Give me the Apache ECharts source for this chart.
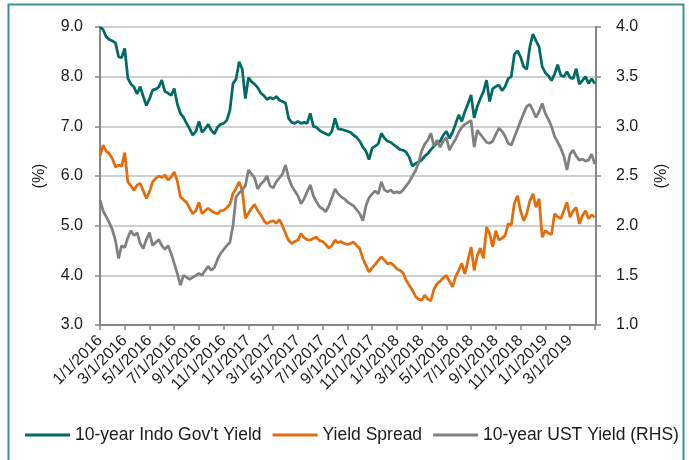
<!DOCTYPE html>
<html>
<head>
<meta charset="utf-8">
<script src="https://cdn.jsdelivr.net/npm/echarts@6/dist/echarts.min.js"></script>
<style>
  html, body { margin: 0; padding: 0; background: #fff; }
  #container { width: 689px; height: 460px; }
</style>
</head>
<body>
<div id="container"></div>
<script type="text/javascript">
    // x = months since 1/1/2016, one point every quarter month
    var step = 0.25;
    var dateLabels = ['1/1/2016', '3/1/2016', '5/1/2016', '7/1/2016', '9/1/2016', '11/1/2016',
        '1/1/2017', '3/1/2017', '5/1/2017', '7/1/2017', '9/1/2017', '11/1/2017',
        '1/1/2018', '3/1/2018', '5/1/2018', '7/1/2018', '9/1/2018', '11/1/2018',
        '1/1/2019', '3/1/2019'];

    // 10-year Indo Gov't Yield (LHS)
    var indoYield = [
        9.00, 8.95, 8.80, 8.75, 8.72, 8.68, 8.40, 8.38, 8.57, 7.97,
        7.85, 7.79, 7.65, 7.80, 7.60, 7.42, 7.55, 7.73, 7.75, 7.79,
        7.93, 7.70, 7.67, 7.62, 7.76, 7.45, 7.26, 7.18, 7.06, 6.95,
        6.82, 6.90, 7.10, 6.88, 6.95, 7.04, 6.92, 6.85, 6.98, 7.04,
        7.06, 7.12, 7.32, 7.86, 7.95, 8.30, 8.15, 7.56, 7.98, 7.90,
        7.85, 7.78, 7.67, 7.62, 7.54, 7.58, 7.55, 7.60, 7.53, 7.50,
        7.47, 7.16, 7.08, 7.06, 7.10, 7.06, 7.08, 7.06, 7.26, 7.00,
        6.98, 6.92, 6.88, 6.85, 6.82, 6.90, 7.16, 6.95, 6.94, 6.92,
        6.90, 6.88, 6.82, 6.78, 6.70, 6.58, 6.50, 6.33, 6.56, 6.60,
        6.65, 6.86, 6.76, 6.70, 6.68, 6.63, 6.58, 6.53, 6.52, 6.48,
        6.38, 6.20, 6.25, 6.28, 6.32, 6.40, 6.45, 6.53, 6.60, 6.66,
        6.70, 6.82, 6.90, 6.76, 6.88, 7.05, 7.23, 7.10, 7.30, 7.45,
        7.63, 7.17, 7.40, 7.56, 7.70, 7.93, 7.50, 7.76, 7.80, 7.83,
        7.72, 7.80, 7.96, 8.00, 8.45, 8.52, 8.40, 8.20, 8.15, 8.60,
        8.86, 8.72, 8.60, 8.20, 8.08, 8.02, 7.92, 8.05, 8.24, 8.03,
        8.00, 8.10, 7.98, 7.96, 8.16, 7.85, 7.92, 8.00, 7.86, 7.96,
        7.86
    ];

    // Yield Spread (LHS)
    var yieldSpread = [
        6.40, 6.62, 6.50, 6.45, 6.35, 6.18, 6.22, 6.20, 6.47, 5.88,
        5.80, 5.71, 5.82, 5.85, 5.70, 5.55, 5.68, 5.88, 5.95, 6.00,
        5.97, 6.02, 5.92, 5.98, 6.08, 5.90, 5.58, 5.52, 5.47, 5.35,
        5.24, 5.30, 5.47, 5.24, 5.30, 5.35, 5.30, 5.26, 5.24, 5.30,
        5.31, 5.36, 5.43, 5.65, 5.75, 5.88, 5.71, 5.15, 5.25, 5.35,
        5.43, 5.30, 5.22, 5.10, 5.04, 5.08, 5.10, 5.05, 5.12, 5.00,
        4.84, 4.70, 4.64, 4.68, 4.71, 4.84, 4.76, 4.72, 4.71, 4.74,
        4.77, 4.70, 4.68, 4.62, 4.55, 4.60, 4.71, 4.66, 4.68, 4.64,
        4.62, 4.64, 4.67, 4.60, 4.54, 4.34, 4.20, 4.07, 4.15, 4.22,
        4.30, 4.37, 4.30, 4.23, 4.25, 4.20, 4.13, 4.10, 4.05, 3.90,
        3.80, 3.70, 3.58, 3.52, 3.50, 3.60, 3.52, 3.49, 3.72, 3.83,
        3.88, 3.95, 4.00, 3.88, 3.77, 3.97, 4.10, 4.24, 4.03, 4.30,
        4.57, 4.10, 4.40, 4.55, 4.34, 4.97, 4.84, 4.57, 4.90, 4.71,
        4.75, 4.80, 5.04, 5.01, 5.45, 5.60, 5.30, 5.10, 5.24, 5.50,
        5.64, 5.37, 5.54, 4.77, 4.90, 4.85, 4.82, 5.24, 5.18, 5.14,
        5.30, 5.47, 5.17, 5.30, 5.37, 5.04, 5.20, 5.30, 5.14, 5.22,
        5.17
    ];

    // 10-year UST Yield (RHS)
    var ustYield = [
        2.26, 2.15, 2.09, 2.03, 1.96, 1.85, 1.67, 1.80, 1.78, 1.88,
        1.95, 1.90, 1.93, 1.82, 1.77, 1.86, 1.93, 1.80, 1.83, 1.86,
        1.80, 1.76, 1.80, 1.72, 1.62, 1.52, 1.40, 1.50, 1.48, 1.46,
        1.48, 1.50, 1.52, 1.50, 1.55, 1.59, 1.55, 1.58, 1.66, 1.72,
        1.76, 1.80, 1.83, 2.00, 2.29, 2.33, 2.36, 2.40, 2.56, 2.52,
        2.48, 2.37, 2.42, 2.45, 2.50, 2.40, 2.38, 2.44, 2.48, 2.52,
        2.61, 2.48, 2.40, 2.35, 2.30, 2.22, 2.27, 2.34, 2.41, 2.30,
        2.24, 2.19, 2.17, 2.14, 2.20, 2.28, 2.37, 2.32, 2.29, 2.27,
        2.24, 2.22, 2.20, 2.16, 2.12, 2.05, 2.20, 2.28, 2.32, 2.35,
        2.32, 2.44, 2.36, 2.34, 2.36, 2.33, 2.34, 2.33, 2.36, 2.40,
        2.44, 2.50, 2.55, 2.63, 2.75, 2.82, 2.86, 2.93, 2.80, 2.86,
        2.79, 2.85, 2.89, 2.76, 2.82, 2.87, 2.94, 2.99, 3.02, 3.04,
        3.06, 2.79, 2.96, 2.92, 2.88, 2.84, 2.83, 2.85, 2.92, 2.98,
        2.95, 2.90, 2.83, 2.81, 2.89, 2.97, 3.05, 3.13, 3.20, 3.22,
        3.16, 3.09, 3.15, 3.23, 3.13, 3.07, 3.00, 2.90, 2.84, 2.78,
        2.70, 2.56, 2.72, 2.76, 2.70, 2.66, 2.67, 2.65, 2.66, 2.72,
        2.62
    ];

    function toPairs(arr) {
        var out = [];
        for (var i = 0; i < arr.length; i++) {
            out.push([i * step, arr[i]]);
        }
        return out;
    }

    var font = 'Liberation Sans';
    var axisGray = '#868686';

    var myChart = echarts.init(document.getElementById('container'), null, { renderer: 'canvas' });
    var option = {
        backgroundColor: '#fff',
        animation: false,
        textStyle: { fontFamily: font },
        graphic: [{
            type: 'rect',
            shape: { x: 8.5, y: 4.5, width: 675, height: 470 },
            style: { fill: 'none', stroke: '#3f8f8f', lineWidth: 2 },
            silent: true
        }],
        grid: { left: 100, right: 93, top: 27, bottom: 135 },
        legend: {
            left: 20,
            top: 421,
            icon: 'rect',
            itemWidth: 45,
            itemHeight: 3,
            itemGap: 11,
            textStyle: { fontFamily: font, fontSize: 17.5, color: '#1a1a1a' },
            data: ["10-year Indo Gov't Yield", 'Yield Spread', '10-year UST Yield (RHS)']
        },
        xAxis: {
            type: 'value',
            min: 0,
            max: 40.1,
            interval: 2,
            splitLine: { show: false },
            axisLine: { lineStyle: { color: axisGray, width: 2 } },
            axisTick: { show: true, length: 5, lineStyle: { color: axisGray, width: 1.5 } },
            axisLabel: {
                rotate: 45,
                margin: 13,
                fontSize: 16,
                color: '#1a1a1a',
                fontFamily: font,
                showMaxLabel: false,
                formatter: function (v) {
                    var k = Math.round(v / 2);
                    return Math.abs(v - k * 2) < 1e-6 && dateLabels[k] ? dateLabels[k] : '';
                }
            }
        },
        yAxis: [{
            type: 'value',
            min: 3,
            max: 9,
            interval: 1,
            name: '(%)',
            nameLocation: 'middle',
            nameRotate: 90,
            nameGap: 52,
            nameTextStyle: { fontSize: 16, color: '#1a1a1a', fontFamily: font },
            axisLine: { show: true, lineStyle: { color: axisGray, width: 2 } },
            axisTick: { show: true, length: 5, lineStyle: { color: axisGray, width: 1.5 } },
            splitLine: { lineStyle: { color: '#bfbfbf', width: 1.5 } },
            axisLabel: {
                margin: 17,
                fontSize: 16,
                color: '#1a1a1a',
                fontFamily: font,
                formatter: function (v) { return v.toFixed(1); }
            }
        }, {
            type: 'value',
            min: 1,
            max: 4,
            interval: 0.5,
            name: '(%)',
            nameLocation: 'middle',
            nameRotate: 90,
            nameGap: 58,
            nameTextStyle: { fontSize: 16, color: '#1a1a1a', fontFamily: font },
            axisLine: { show: true, lineStyle: { color: axisGray, width: 2 } },
            axisTick: { show: true, length: 5, lineStyle: { color: axisGray, width: 1.5 } },
            splitLine: { show: false },
            axisLabel: {
                margin: 20,
                fontSize: 16,
                color: '#1a1a1a',
                fontFamily: font,
                formatter: function (v) { return v.toFixed(1); }
            }
        }],
        series: [{
            name: "10-year Indo Gov't Yield",
            type: 'line',
            yAxisIndex: 0,
            showSymbol: false,
            color: '#006b63',
            lineStyle: { width: 2.75, color: '#006b63' },
            data: toPairs(indoYield)
        }, {
            name: 'Yield Spread',
            type: 'line',
            yAxisIndex: 0,
            showSymbol: false,
            color: '#e46c0a',
            lineStyle: { width: 2.75, color: '#e46c0a' },
            data: toPairs(yieldSpread)
        }, {
            name: '10-year UST Yield (RHS)',
            type: 'line',
            yAxisIndex: 1,
            showSymbol: false,
            color: '#808080',
            lineStyle: { width: 2.75, color: '#808080' },
            data: toPairs(ustYield)
        }]
    };
    myChart.setOption(option);
</script>
</body>
</html>
